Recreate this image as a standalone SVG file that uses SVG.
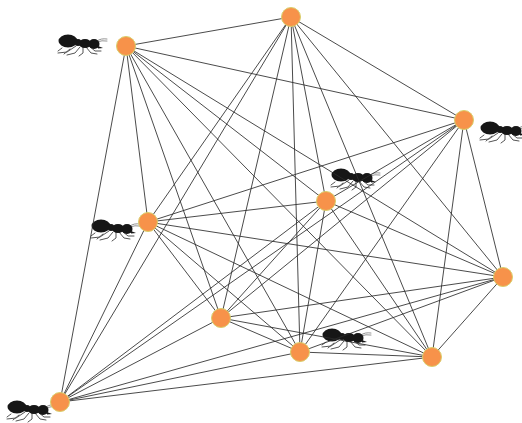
<svg xmlns="http://www.w3.org/2000/svg" xmlns:xlink="http://www.w3.org/1999/xlink" width="522" height="423" viewBox="0 0 522 423">
  <style>
    .edge { stroke: #2a2a2a; stroke-width: 0.85; fill: none; }
    .node { fill: #f7924a; stroke: #d9cf6a; stroke-width: 1; }
    .ant-body { fill: #141414; }
    .ant-leg { stroke: #555; stroke-width: 1; fill: none; stroke-linecap: round; }
    .ant-feeler { stroke: #777; stroke-width: 0.8; fill: none; stroke-linecap: round; }
  </style>
  <defs>
    <filter id="soft" x="-20%" y="-30%" width="140%" height="160%">
      <feGaussianBlur stdDeviation="0.55"/>
    </filter>
    <!-- ant facing right, centred on the origin -->
    <g id="ant" filter="url(#soft)">
      <path class="ant-leg" d="M-4,2 L-13,8 L-22,9 M0,3 L-5,9 L-13,11 M3,3 L3,9 L-1,12 M6,3 L11,9 L17,10 M9,2 L15,7 L21,7"/>
      <path class="ant-leg" d="M-18,4 L-22,7 M-10,5 L-16,10" stroke="#999" stroke-width="0.8"/>
      <path class="ant-feeler" d="M17,-3 Q21,-6 27,-5 M17,-2 Q22,-4 27,-3"/>
      <ellipse class="ant-body" cx="-12" cy="-3" rx="9.5" ry="6.5"/>
      <ellipse class="ant-body" cx="-2" cy="-1.5" rx="3.5" ry="3.5"/>
      <ellipse class="ant-body" cx="5" cy="-0.5" rx="6" ry="4.5"/>
      <ellipse class="ant-body" cx="14" cy="0" rx="5.5" ry="5"/>
      <path class="ant-body" d="M18,2 L23,4 L18,4.5 Z"/>
    </g>
  </defs>

  <g id="ants">
    <use xlink:href="#ant" x="80" y="44"/>
    <use xlink:href="#ant" x="502" y="131"/>
    <use xlink:href="#ant" x="353" y="178"/>
    <use xlink:href="#ant" x="113" y="229"/>
    <use xlink:href="#ant" x="344" y="338"/>
    <use xlink:href="#ant" x="29" y="410"/>
  </g>

  <g id="connectors" class="edge">
    <!-- A -->
    <line x1="126" y1="46" x2="291" y2="17"/>
    <line x1="126" y1="46" x2="464" y2="120"/>
    <line x1="126" y1="46" x2="326" y2="201"/>
    <line x1="126" y1="46" x2="148" y2="222"/>
    <line x1="126" y1="46" x2="503" y2="277"/>
    <line x1="126" y1="46" x2="221" y2="318"/>
    <line x1="126" y1="46" x2="300" y2="352"/>
    <line x1="126" y1="46" x2="432" y2="357"/>
    <line x1="126" y1="46" x2="60" y2="402"/>
    <!-- B -->
    <line x1="291" y1="17" x2="464" y2="120"/>
    <line x1="291" y1="17" x2="326" y2="201"/>
    <line x1="291" y1="17" x2="148" y2="222"/>
    <line x1="291" y1="17" x2="503" y2="277"/>
    <line x1="291" y1="17" x2="221" y2="318"/>
    <line x1="291" y1="17" x2="300" y2="352"/>
    <line x1="291" y1="17" x2="432" y2="357"/>
    <line x1="291" y1="17" x2="60" y2="402"/>
    <!-- C -->
    <line x1="464" y1="120" x2="326" y2="201"/>
    <line x1="464" y1="120" x2="148" y2="222"/>
    <line x1="464" y1="120" x2="503" y2="277"/>
    <line x1="464" y1="120" x2="221" y2="318"/>
    <line x1="464" y1="120" x2="300" y2="352"/>
    <line x1="464" y1="120" x2="432" y2="357"/>
    <line x1="464" y1="120" x2="60" y2="402"/>
    <!-- D -->
    <line x1="326" y1="201" x2="148" y2="222"/>
    <line x1="326" y1="201" x2="503" y2="277"/>
    <line x1="326" y1="201" x2="221" y2="318"/>
    <line x1="326" y1="201" x2="300" y2="352"/>
    <line x1="326" y1="201" x2="432" y2="357"/>
    <line x1="326" y1="201" x2="60" y2="402"/>
    <!-- E -->
    <line x1="148" y1="222" x2="503" y2="277"/>
    <line x1="148" y1="222" x2="221" y2="318"/>
    <line x1="148" y1="222" x2="300" y2="352"/>
    <line x1="148" y1="222" x2="432" y2="357"/>
    <line x1="148" y1="222" x2="60" y2="402"/>
    <!-- F -->
    <line x1="503" y1="277" x2="221" y2="318"/>
    <line x1="503" y1="277" x2="300" y2="352"/>
    <line x1="503" y1="277" x2="432" y2="357"/>
    <line x1="503" y1="277" x2="60" y2="402"/>
    <!-- G -->
    <line x1="221" y1="318" x2="300" y2="352"/>
    <line x1="221" y1="318" x2="432" y2="357"/>
    <line x1="221" y1="318" x2="60" y2="402"/>
    <!-- H -->
    <line x1="300" y1="352" x2="432" y2="357"/>
    <line x1="300" y1="352" x2="60" y2="402"/>
    <!-- I -->
    <line x1="432" y1="357" x2="60" y2="402"/>
  </g>

  <g id="node-a"><circle class="node" cx="126" cy="46" r="9.5"/></g>
  <g id="node-b"><circle class="node" cx="291" cy="17" r="9.5"/></g>
  <g id="node-c"><circle class="node" cx="464" cy="120" r="9.5"/></g>
  <g id="node-d"><circle class="node" cx="326" cy="201" r="9.5"/></g>
  <g id="node-e"><circle class="node" cx="148" cy="222" r="9.5"/></g>
  <g id="node-f"><circle class="node" cx="503" cy="277" r="9.5"/></g>
  <g id="node-g"><circle class="node" cx="221" cy="318" r="9.5"/></g>
  <g id="node-h"><circle class="node" cx="300" cy="352" r="9.5"/></g>
  <g id="node-i"><circle class="node" cx="432" cy="357" r="9.5"/></g>
  <g id="node-j"><circle class="node" cx="60" cy="402" r="9.5"/></g>
</svg>
